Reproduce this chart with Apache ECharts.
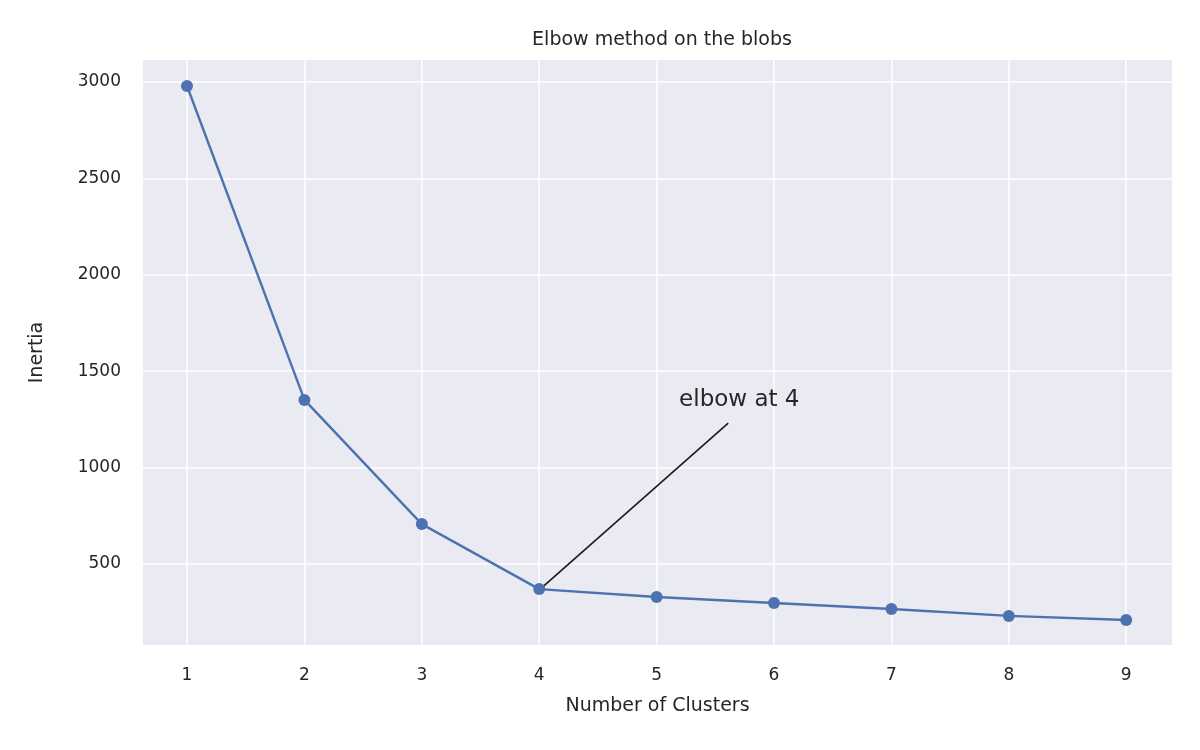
<!DOCTYPE html>
<html><head><meta charset="utf-8">
<script src="https://cdn.jsdelivr.net/npm/echarts@6/dist/echarts.min.js"></script>
<style>html,body{margin:0;background:#fff}#c{width:1200px;height:750px}</style>
</head><body><div id="c"></div>
<script>
const clusters = [1,2,3,4,5,6,7,8,9];
const inertia = [2979,1351,707,370,329,298,267,231,210];
const xTicks = [1,2,3,4,5,6,7,8,9];
const yTicks = [500,1000,1500,2000,2500,3000];
const annotText = 'elbow at 4';
const annotFrom = [5.61,1231];
const annotTo = [4.03,381];
const annotTextPos = [5.2,1351];

const font = 'DejaVu Sans';
const chart = echarts.init(document.getElementById('c'));
const gridLines = xTicks.map(v=>({xAxis:v})).concat(yTicks.map(v=>({yAxis:v})));
chart.setOption({
  animation:false,
  textStyle:{fontFamily:font},
  title:{text:'Elbow method on the blobs',left:657,top:26,textAlign:'center',
    textStyle:{fontFamily:font,fontSize:19,fontWeight:'normal',color:'#262626'}},
  grid:{left:143,right:28,top:60,bottom:105,backgroundColor:'#eaeaf2',show:true,borderWidth:0},
  xAxis:{type:'value',min:0.625,max:9.39,
    name:'Number of Clusters',nameLocation:'middle',nameGap:52,
    nameTextStyle:{fontSize:19,color:'#262626'},
    axisLine:{show:false},axisTick:{show:false},splitLine:{show:false},
    axisLabel:{customValues:xTicks,fontSize:17,color:'#262626',margin:22}},
  yAxis:{type:'value',min:80,max:3114,
    name:'Inertia',nameLocation:'middle',nameGap:96,
    nameTextStyle:{fontSize:19,color:'#262626'},
    axisLine:{show:false},axisTick:{show:false},splitLine:{show:false},
    axisLabel:{customValues:yTicks,fontSize:17,color:'#262626',margin:22,formatter:v=>String(v)}},
  series:[
    {type:'line',data:[],silent:true,z:0,zlevel:0,
     markLine:{symbol:'none',silent:true,label:{show:false},z:0,
       lineStyle:{color:'#ffffff',width:1.5,type:'solid'},data:gridLines}},
    {type:'line',data:clusters.map((c,i)=>[c,inertia[i]]),z:10,zlevel:1,
     symbol:'circle',symbolSize:12,
     lineStyle:{color:'#4c72b0',width:2.4},itemStyle:{color:'#4c72b0'},
     markLine:{silent:true,symbol:['none','arrow'],symbolSize:[0,12],label:{show:false},
       lineStyle:{color:'#1a1a1a',width:1.6,type:'solid'},
       data:[[{coord:annotFrom},{coord:annotTo}]]},
     markPoint:{silent:true,symbol:'circle',symbolSize:0,
       data:[{coord:annotTextPos,label:{show:true,formatter:annotText,position:'right',
         offset:[-6,0],fontSize:23,color:'#262626',fontFamily:font}}]}}
  ]
});
</script></body></html>
